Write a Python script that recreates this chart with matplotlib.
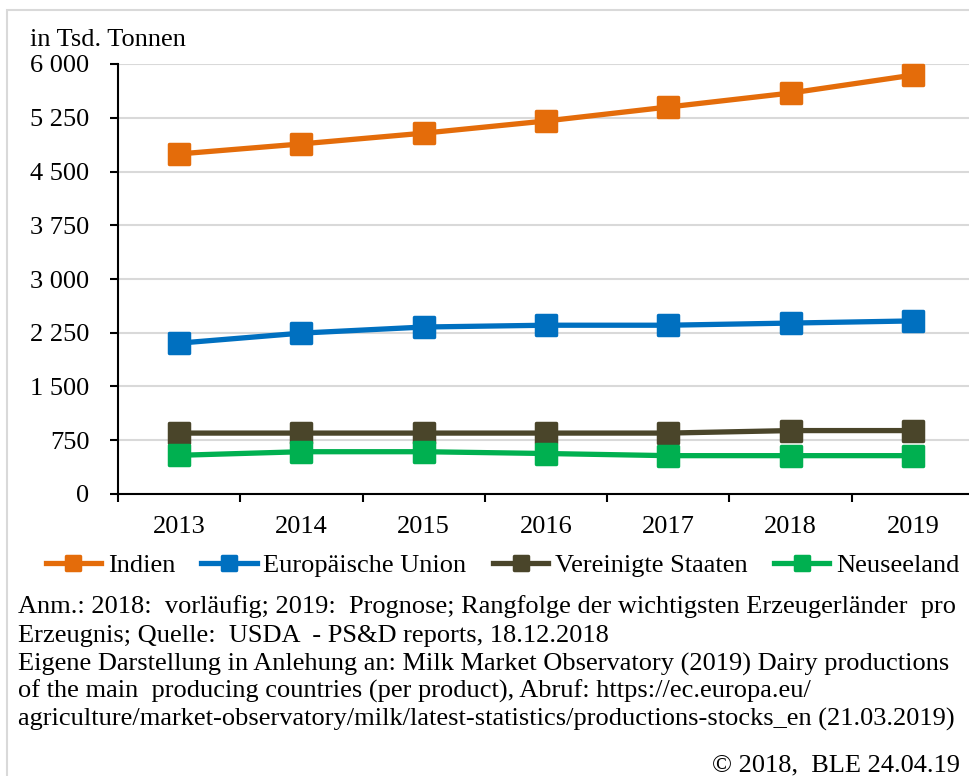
import matplotlib
matplotlib.use("Agg")
from matplotlib import pyplot as plt
from matplotlib.markers import MarkerStyle
from matplotlib.patches import Rectangle
from matplotlib.ticker import FuncFormatter, FixedLocator

# data (in Tsd. Tonnen)
years = ['2013', '2014', '2015', '2016', '2017', '2018', '2019']
indien = [4745, 4885, 5035, 5205, 5400, 5595, 5845]
eu = [2105, 2245, 2330, 2355, 2355, 2385, 2415]
usa = [850, 850, 850, 850, 850, 885, 885]
nz = [540, 590, 590, 565, 535, 535, 535]
names = ['Indien', 'Europäische Union', 'Vereinigte Staaten', 'Neuseeland']
colors = ['#E46C0A', '#0070C0', '#4A452A', '#00B050']

plt.rcParams['font.family'] = ['Liberation Serif', 'DejaVu Serif']
fs = 19

fig = plt.figure(figsize=(9.7, 7.76), dpi=100)
fig.patches.append(Rectangle((7 / 970, -0.05), 1.1, 1 - 10 / 776 + 0.05,
                             transform=fig.transFigure, fill=False,
                             edgecolor='#D9D9D9', linewidth=1.5))

ax = fig.add_axes([118 / 970, 1 - 494 / 776, 856 / 970, 430 / 776])
x = list(range(len(years)))
mk = MarkerStyle('s', joinstyle='round')
for vals, name, col in zip([indien, eu, usa, nz], names, colors):
    ax.plot(x, vals, color=col, linewidth=3.8, marker=mk, markersize=14.5,
            markeredgewidth=2.5, markeredgecolor=col, label=name,
            solid_joinstyle='round', clip_on=False)

ax.set_ylim(0, 6000)
ax.set_xlim(-0.5, len(years) - 0.5)
ax.set_yticks(range(0, 6001, 750))
ax.yaxis.set_major_formatter(FuncFormatter(lambda v, p: '{:,}'.format(int(v)).replace(',', ' ')))
ax.set_xticks(x)
ax.set_xticklabels(years)
ax.xaxis.set_minor_locator(FixedLocator([i - 0.5 for i in range(len(years) + 1)]))
ax.tick_params(axis='x', which='major', length=0, pad=16, labelsize=fs)
ax.tick_params(axis='x', which='minor', length=6, width=1.5, direction='out')
ax.tick_params(axis='y', length=5.5, width=1.5, direction='out', pad=15, labelsize=fs)
ax.grid(axis='y', color='#D9D9D9', linewidth=1.5)
ax.set_axisbelow(True)
for s in ['top', 'right']:
    ax.spines[s].set_visible(False)
for s in ['left', 'bottom']:
    ax.spines[s].set_linewidth(1.5)

fig.text(30 / 970, 1 - 40 / 776, 'in Tsd. Tonnen', fontsize=fs, va='center', ha='left')

leg = fig.legend(loc='center', bbox_to_anchor=(0.518, 1 - 565 / 776), ncol=4, frameon=False,
                 fontsize=fs, handlelength=2.1, handletextpad=0.25, columnspacing=1.0,
                 borderaxespad=0)
for h in leg.legend_handles:
    h.set_markersize(10)

notes = [
    'Anm.: 2018:  vorläufig; 2019:  Prognose; Rangfolge der wichtigsten Erzeugerländer  pro',
    'Erzeugnis; Quelle:  USDA  - PS&D reports, 18.12.2018',
    'Eigene Darstellung in Anlehung an: Milk Market Observatory (2019) Dairy productions',
    'of the main  producing countries (per product), Abruf: https://ec.europa.eu/',
    'agriculture/market-observatory/milk/latest-statistics/productions-stocks_en (21.03.2019)',
]
ys = [607, 636, 664, 691, 719]
for t, yy in zip(notes, ys):
    fig.text(18 / 970, 1 - yy / 776, t, fontsize=fs, va='center', ha='left')
fig.text(960 / 970, 1 - 765 / 776, '© 2018,  BLE 24.04.19', fontsize=fs, va='center', ha='right')

fig.savefig('out.png', dpi=100)
